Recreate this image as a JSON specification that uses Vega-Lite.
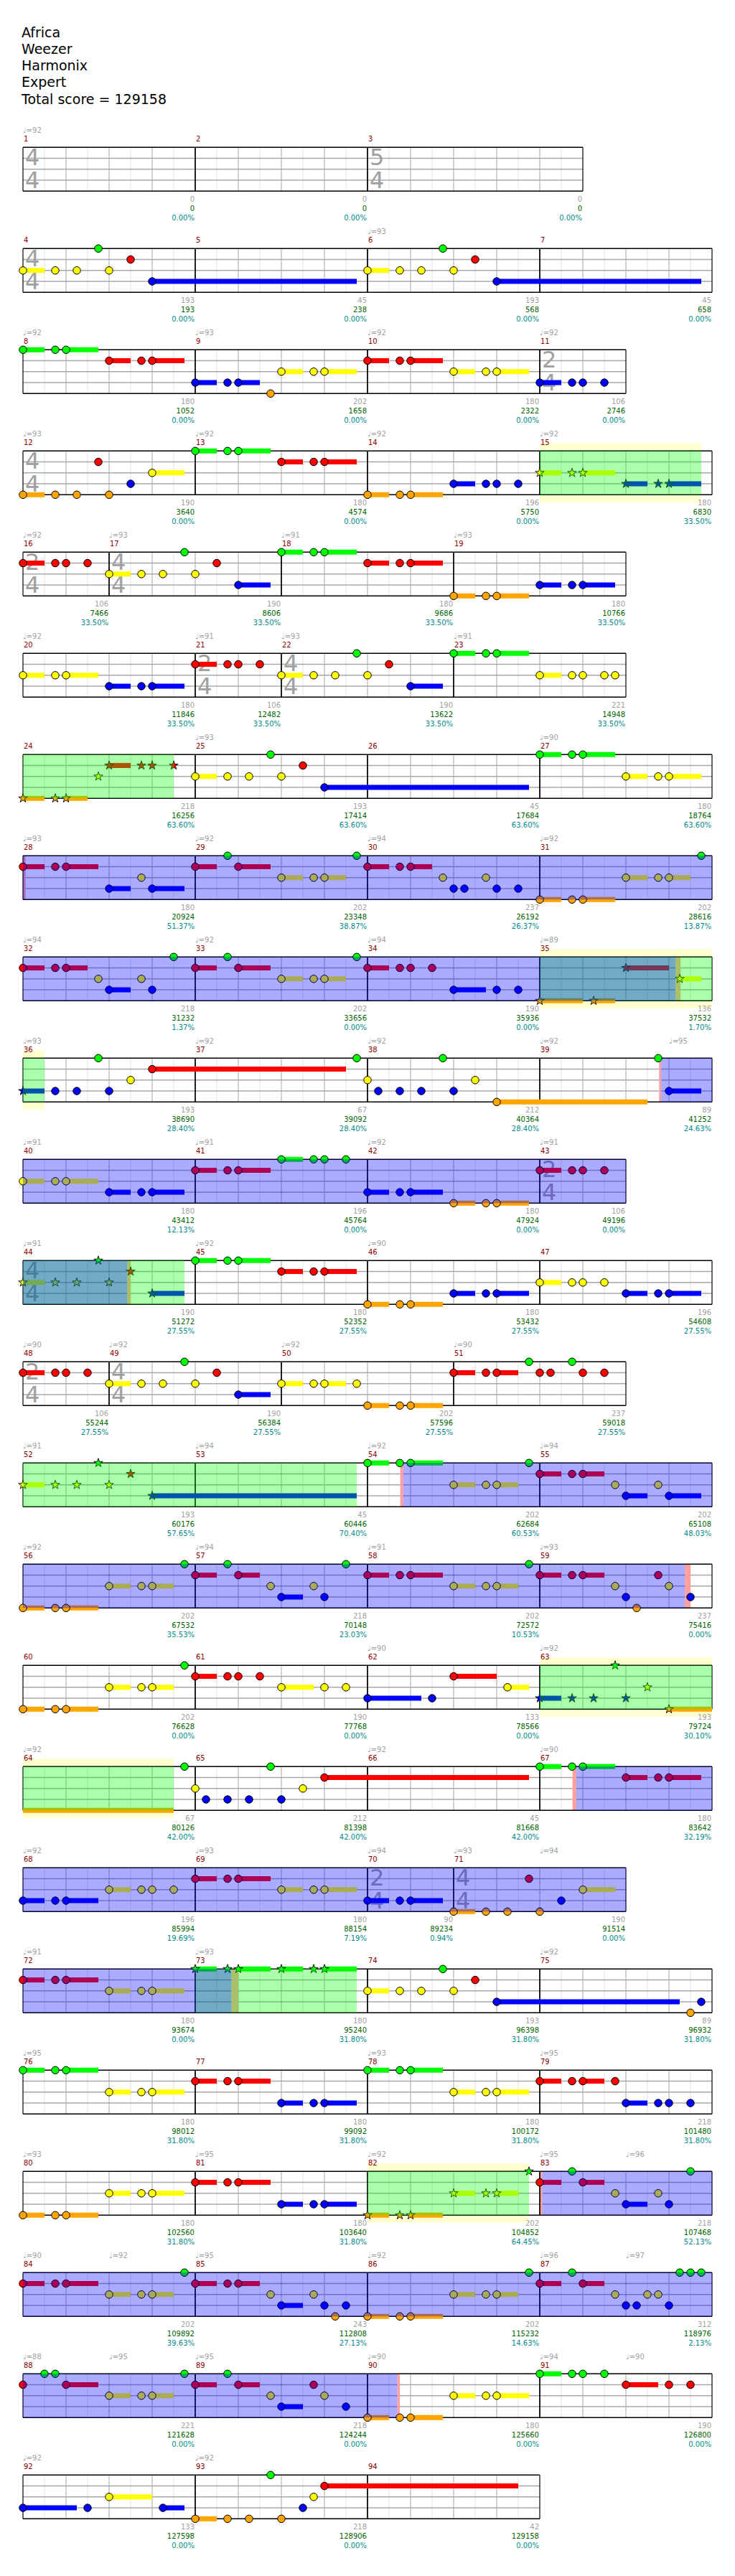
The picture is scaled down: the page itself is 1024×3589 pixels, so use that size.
{
"$schema":"https://vega.github.io/schema/vega-lite/v6.json",
"autosize":{"type":"none"},
"padding":{"left":32,"top":171.75,"right":32,"bottom":33},
"width":960,"height":3384,
"title":{"text":["Africa","Weezer","Harmonix","Expert","Total score = 129158"],"anchor":"start","frame":"group","baseline":"bottom","fontSize":19,"font":"DejaVu Sans","fontWeight":"normal","lineHeight":23.3,"offset":4,"dx":-2,"color":"black"},
"config":{"view":{"stroke":null}},
"datasets":{
"grid":[
{"len":16,"gb":[1,2,3,4,5,6,7,8,9,10,11,12,13,14,15],"gh":[0.5,1.5,2.5,3.5,4.5,5.5,6.5,7.5,8.5,9.5,10.5,11.5,12.5,13.5,14.5,15.5]},
{"len":14,"gb":[1,2,3,4,5,6,7,8,9,10,11,12,13],"gh":[0.5,1.5,2.5,3.5,4.5,5.5,6.5,7.5,8.5,9.5,10.5,11.5,12.5,13.5]},
{"len":13,"gb":[1,2,3,4,5,6,7,8,9,10,11,12],"gh":[0.5,1.5,2.5,3.5,4.5,5.5,6.5,7.5,8.5,9.5,10.5,11.5,12.5]},
{"len":12,"gb":[1,2,3,4,5,6,7,8,9,10,11],"gh":[0.5,1.5,2.5,3.5,4.5,5.5,6.5,7.5,8.5,9.5,10.5,11.5]}
],
"main":[
{"k":"row","r":1,"len":13},{"k":"row","r":2,"len":16},{"k":"row","r":3,"len":14},{"k":"row","r":4,"len":16},{"k":"row","r":5,"len":14},{"k":"row","r":6,"len":14},{"k":"row","r":7,"len":16},{"k":"row","r":8,"len":16},{"k":"row","r":9,"len":16},{"k":"row","r":10,"len":16},{"k":"row","r":11,"len":14},{"k":"row","r":12,"len":16},{"k":"row","r":13,"len":14},{"k":"row","r":14,"len":16},{"k":"row","r":15,"len":16},{"k":"row","r":16,"len":16},{"k":"row","r":17,"len":16},{"k":"row","r":18,"len":14},{"k":"row","r":19,"len":16},{"k":"row","r":20,"len":16},{"k":"row","r":21,"len":16},{"k":"row","r":22,"len":16},{"k":"row","r":23,"len":16},{"k":"row","r":24,"len":12},

{"k":"m","r":1,"n":1,"x":0,"xe":4,"sc":0,"tot":0,"pc":0,"tn":4,"td":4},
{"k":"m","r":1,"n":2,"x":4,"xe":8,"sc":0,"tot":0,"pc":0},
{"k":"m","r":1,"n":3,"x":8,"xe":13,"sc":0,"tot":0,"pc":0,"tn":5,"td":4},
{"k":"m","r":2,"n":4,"x":0,"xe":4,"sc":193,"tot":193,"pc":0,"tn":4,"td":4},
{"k":"m","r":2,"n":5,"x":4,"xe":8,"sc":45,"tot":238,"pc":0},
{"k":"m","r":2,"n":6,"x":8,"xe":12,"sc":193,"tot":568,"pc":0},
{"k":"m","r":2,"n":7,"x":12,"xe":16,"sc":45,"tot":658,"pc":0},
{"k":"m","r":3,"n":8,"x":0,"xe":4,"sc":180,"tot":1052,"pc":0},
{"k":"m","r":3,"n":9,"x":4,"xe":8,"sc":202,"tot":1658,"pc":0},
{"k":"m","r":3,"n":10,"x":8,"xe":12,"sc":180,"tot":2322,"pc":0},
{"k":"m","r":3,"n":11,"x":12,"xe":14,"sc":106,"tot":2746,"pc":0,"tn":2,"td":4},
{"k":"m","r":4,"n":12,"x":0,"xe":4,"sc":190,"tot":3640,"pc":0,"tn":4,"td":4},
{"k":"m","r":4,"n":13,"x":4,"xe":8,"sc":180,"tot":4574,"pc":0},
{"k":"m","r":4,"n":14,"x":8,"xe":12,"sc":196,"tot":5750,"pc":0},
{"k":"m","r":4,"n":15,"x":12,"xe":16,"sc":180,"tot":6830,"pc":0.335},
{"k":"m","r":5,"n":16,"x":0,"xe":2,"sc":106,"tot":7466,"pc":0.335,"tn":2,"td":4},
{"k":"m","r":5,"n":17,"x":2,"xe":6,"sc":190,"tot":8606,"pc":0.335,"tn":4,"td":4},
{"k":"m","r":5,"n":18,"x":6,"xe":10,"sc":180,"tot":9686,"pc":0.335},
{"k":"m","r":5,"n":19,"x":10,"xe":14,"sc":180,"tot":10766,"pc":0.335},
{"k":"m","r":6,"n":20,"x":0,"xe":4,"sc":180,"tot":11846,"pc":0.335},
{"k":"m","r":6,"n":21,"x":4,"xe":6,"sc":106,"tot":12482,"pc":0.335,"tn":2,"td":4},
{"k":"m","r":6,"n":22,"x":6,"xe":10,"sc":190,"tot":13622,"pc":0.335,"tn":4,"td":4},
{"k":"m","r":6,"n":23,"x":10,"xe":14,"sc":221,"tot":14948,"pc":0.335},
{"k":"m","r":7,"n":24,"x":0,"xe":4,"sc":218,"tot":16256,"pc":0.636},
{"k":"m","r":7,"n":25,"x":4,"xe":8,"sc":193,"tot":17414,"pc":0.636},
{"k":"m","r":7,"n":26,"x":8,"xe":12,"sc":45,"tot":17684,"pc":0.636},
{"k":"m","r":7,"n":27,"x":12,"xe":16,"sc":180,"tot":18764,"pc":0.636},
{"k":"m","r":8,"n":28,"x":0,"xe":4,"sc":180,"tot":20924,"pc":0.5137},
{"k":"m","r":8,"n":29,"x":4,"xe":8,"sc":202,"tot":23348,"pc":0.3887},
{"k":"m","r":8,"n":30,"x":8,"xe":12,"sc":237,"tot":26192,"pc":0.2637},
{"k":"m","r":8,"n":31,"x":12,"xe":16,"sc":202,"tot":28616,"pc":0.1387},
{"k":"m","r":9,"n":32,"x":0,"xe":4,"sc":218,"tot":31232,"pc":0.0137},
{"k":"m","r":9,"n":33,"x":4,"xe":8,"sc":202,"tot":33656,"pc":0},
{"k":"m","r":9,"n":34,"x":8,"xe":12,"sc":190,"tot":35936,"pc":0},
{"k":"m","r":9,"n":35,"x":12,"xe":16,"sc":136,"tot":37532,"pc":0.017},
{"k":"m","r":10,"n":36,"x":0,"xe":4,"sc":193,"tot":38690,"pc":0.284},
{"k":"m","r":10,"n":37,"x":4,"xe":8,"sc":67,"tot":39092,"pc":0.284},
{"k":"m","r":10,"n":38,"x":8,"xe":12,"sc":212,"tot":40364,"pc":0.284},
{"k":"m","r":10,"n":39,"x":12,"xe":16,"sc":89,"tot":41252,"pc":0.2463},
{"k":"m","r":11,"n":40,"x":0,"xe":4,"sc":180,"tot":43412,"pc":0.1213},
{"k":"m","r":11,"n":41,"x":4,"xe":8,"sc":196,"tot":45764,"pc":0},
{"k":"m","r":11,"n":42,"x":8,"xe":12,"sc":180,"tot":47924,"pc":0},
{"k":"m","r":11,"n":43,"x":12,"xe":14,"sc":106,"tot":49196,"pc":0,"tn":2,"td":4},
{"k":"m","r":12,"n":44,"x":0,"xe":4,"sc":190,"tot":51272,"pc":0.2755,"tn":4,"td":4},
{"k":"m","r":12,"n":45,"x":4,"xe":8,"sc":180,"tot":52352,"pc":0.2755},
{"k":"m","r":12,"n":46,"x":8,"xe":12,"sc":180,"tot":53432,"pc":0.2755},
{"k":"m","r":12,"n":47,"x":12,"xe":16,"sc":196,"tot":54608,"pc":0.2755},
{"k":"m","r":13,"n":48,"x":0,"xe":2,"sc":106,"tot":55244,"pc":0.2755,"tn":2,"td":4},
{"k":"m","r":13,"n":49,"x":2,"xe":6,"sc":190,"tot":56384,"pc":0.2755,"tn":4,"td":4},
{"k":"m","r":13,"n":50,"x":6,"xe":10,"sc":202,"tot":57596,"pc":0.2755},
{"k":"m","r":13,"n":51,"x":10,"xe":14,"sc":237,"tot":59018,"pc":0.2755},
{"k":"m","r":14,"n":52,"x":0,"xe":4,"sc":193,"tot":60176,"pc":0.5765},
{"k":"m","r":14,"n":53,"x":4,"xe":8,"sc":45,"tot":60446,"pc":0.704},
{"k":"m","r":14,"n":54,"x":8,"xe":12,"sc":202,"tot":62684,"pc":0.6053},
{"k":"m","r":14,"n":55,"x":12,"xe":16,"sc":202,"tot":65108,"pc":0.4803},
{"k":"m","r":15,"n":56,"x":0,"xe":4,"sc":202,"tot":67532,"pc":0.3553},
{"k":"m","r":15,"n":57,"x":4,"xe":8,"sc":218,"tot":70148,"pc":0.2303},
{"k":"m","r":15,"n":58,"x":8,"xe":12,"sc":202,"tot":72572,"pc":0.1053},
{"k":"m","r":15,"n":59,"x":12,"xe":16,"sc":237,"tot":75416,"pc":0},
{"k":"m","r":16,"n":60,"x":0,"xe":4,"sc":202,"tot":76628,"pc":0},
{"k":"m","r":16,"n":61,"x":4,"xe":8,"sc":190,"tot":77768,"pc":0},
{"k":"m","r":16,"n":62,"x":8,"xe":12,"sc":133,"tot":78566,"pc":0},
{"k":"m","r":16,"n":63,"x":12,"xe":16,"sc":193,"tot":79724,"pc":0.301},
{"k":"m","r":17,"n":64,"x":0,"xe":4,"sc":67,"tot":80126,"pc":0.42},
{"k":"m","r":17,"n":65,"x":4,"xe":8,"sc":212,"tot":81398,"pc":0.42},
{"k":"m","r":17,"n":66,"x":8,"xe":12,"sc":45,"tot":81668,"pc":0.42},
{"k":"m","r":17,"n":67,"x":12,"xe":16,"sc":180,"tot":83642,"pc":0.3219},
{"k":"m","r":18,"n":68,"x":0,"xe":4,"sc":196,"tot":85994,"pc":0.1969},
{"k":"m","r":18,"n":69,"x":4,"xe":8,"sc":180,"tot":88154,"pc":0.0719},
{"k":"m","r":18,"n":70,"x":8,"xe":10,"sc":90,"tot":89234,"pc":0.0094,"tn":2,"td":4},
{"k":"m","r":18,"n":71,"x":10,"xe":14,"sc":190,"tot":91514,"pc":0,"tn":4,"td":4},
{"k":"m","r":19,"n":72,"x":0,"xe":4,"sc":180,"tot":93674,"pc":0},
{"k":"m","r":19,"n":73,"x":4,"xe":8,"sc":180,"tot":95240,"pc":0.318},
{"k":"m","r":19,"n":74,"x":8,"xe":12,"sc":193,"tot":96398,"pc":0.318},
{"k":"m","r":19,"n":75,"x":12,"xe":16,"sc":89,"tot":96932,"pc":0.318},
{"k":"m","r":20,"n":76,"x":0,"xe":4,"sc":180,"tot":98012,"pc":0.318},
{"k":"m","r":20,"n":77,"x":4,"xe":8,"sc":180,"tot":99092,"pc":0.318},
{"k":"m","r":20,"n":78,"x":8,"xe":12,"sc":180,"tot":100172,"pc":0.318},
{"k":"m","r":20,"n":79,"x":12,"xe":16,"sc":218,"tot":101480,"pc":0.318},
{"k":"m","r":21,"n":80,"x":0,"xe":4,"sc":180,"tot":102560,"pc":0.318},
{"k":"m","r":21,"n":81,"x":4,"xe":8,"sc":180,"tot":103640,"pc":0.318},
{"k":"m","r":21,"n":82,"x":8,"xe":12,"sc":202,"tot":104852,"pc":0.6445},
{"k":"m","r":21,"n":83,"x":12,"xe":16,"sc":218,"tot":107468,"pc":0.5213},
{"k":"m","r":22,"n":84,"x":0,"xe":4,"sc":202,"tot":109892,"pc":0.3963},
{"k":"m","r":22,"n":85,"x":4,"xe":8,"sc":243,"tot":112808,"pc":0.2713},
{"k":"m","r":22,"n":86,"x":8,"xe":12,"sc":202,"tot":115232,"pc":0.1463},
{"k":"m","r":22,"n":87,"x":12,"xe":16,"sc":312,"tot":118976,"pc":0.0213},
{"k":"m","r":23,"n":88,"x":0,"xe":4,"sc":221,"tot":121628,"pc":0},
{"k":"m","r":23,"n":89,"x":4,"xe":8,"sc":218,"tot":124244,"pc":0},
{"k":"m","r":23,"n":90,"x":8,"xe":12,"sc":180,"tot":125660,"pc":0},
{"k":"m","r":23,"n":91,"x":12,"xe":16,"sc":190,"tot":126800,"pc":0},
{"k":"m","r":24,"n":92,"x":0,"xe":4,"sc":133,"tot":127598,"pc":0},
{"k":"m","r":24,"n":93,"x":4,"xe":8,"sc":218,"tot":128906,"pc":0},
{"k":"m","r":24,"n":94,"x":8,"xe":12,"sc":42,"tot":129158,"pc":0},

{"k":"t","r":1,"x":0,"tp":"♩=92"},
{"k":"t","r":2,"x":8,"tp":"♩=93"},
{"k":"t","r":3,"x":0,"tp":"♩=92"},{"k":"t","r":3,"x":4,"tp":"♩=93"},{"k":"t","r":3,"x":8,"tp":"♩=92"},{"k":"t","r":3,"x":12,"tp":"♩=92"},
{"k":"t","r":4,"x":0,"tp":"♩=93"},{"k":"t","r":4,"x":4,"tp":"♩=92"},{"k":"t","r":4,"x":8,"tp":"♩=92"},{"k":"t","r":4,"x":12,"tp":"♩=92"},
{"k":"t","r":5,"x":0,"tp":"♩=92"},{"k":"t","r":5,"x":2,"tp":"♩=93"},{"k":"t","r":5,"x":6,"tp":"♩=91"},{"k":"t","r":5,"x":10,"tp":"♩=93"},
{"k":"t","r":6,"x":0,"tp":"♩=92"},{"k":"t","r":6,"x":4,"tp":"♩=91"},{"k":"t","r":6,"x":6,"tp":"♩=93"},{"k":"t","r":6,"x":10,"tp":"♩=91"},
{"k":"t","r":7,"x":4,"tp":"♩=93"},{"k":"t","r":7,"x":12,"tp":"♩=90"},
{"k":"t","r":8,"x":0,"tp":"♩=93"},{"k":"t","r":8,"x":4,"tp":"♩=92"},{"k":"t","r":8,"x":8,"tp":"♩=94"},{"k":"t","r":8,"x":12,"tp":"♩=92"},
{"k":"t","r":9,"x":0,"tp":"♩=94"},{"k":"t","r":9,"x":4,"tp":"♩=92"},{"k":"t","r":9,"x":8,"tp":"♩=94"},{"k":"t","r":9,"x":12,"tp":"♩=89"},
{"k":"t","r":10,"x":0,"tp":"♩=93"},{"k":"t","r":10,"x":4,"tp":"♩=92"},{"k":"t","r":10,"x":8,"tp":"♩=92"},{"k":"t","r":10,"x":12,"tp":"♩=92"},{"k":"t","r":10,"x":15,"tp":"♩=95"},
{"k":"t","r":11,"x":0,"tp":"♩=91"},{"k":"t","r":11,"x":4,"tp":"♩=91"},{"k":"t","r":11,"x":8,"tp":"♩=92"},{"k":"t","r":11,"x":12,"tp":"♩=91"},
{"k":"t","r":12,"x":0,"tp":"♩=91"},{"k":"t","r":12,"x":4,"tp":"♩=92"},{"k":"t","r":12,"x":8,"tp":"♩=90"},
{"k":"t","r":13,"x":0,"tp":"♩=90"},{"k":"t","r":13,"x":2,"tp":"♩=92"},{"k":"t","r":13,"x":6,"tp":"♩=92"},{"k":"t","r":13,"x":10,"tp":"♩=90"},
{"k":"t","r":14,"x":0,"tp":"♩=91"},{"k":"t","r":14,"x":4,"tp":"♩=94"},{"k":"t","r":14,"x":8,"tp":"♩=92"},{"k":"t","r":14,"x":12,"tp":"♩=94"},
{"k":"t","r":15,"x":0,"tp":"♩=92"},{"k":"t","r":15,"x":4,"tp":"♩=94"},{"k":"t","r":15,"x":8,"tp":"♩=91"},{"k":"t","r":15,"x":12,"tp":"♩=93"},
{"k":"t","r":16,"x":8,"tp":"♩=90"},{"k":"t","r":16,"x":12,"tp":"♩=92"},
{"k":"t","r":17,"x":0,"tp":"♩=92"},{"k":"t","r":17,"x":8,"tp":"♩=92"},{"k":"t","r":17,"x":12,"tp":"♩=90"},
{"k":"t","r":18,"x":0,"tp":"♩=92"},{"k":"t","r":18,"x":4,"tp":"♩=93"},{"k":"t","r":18,"x":8,"tp":"♩=94"},{"k":"t","r":18,"x":10,"tp":"♩=93"},{"k":"t","r":18,"x":12,"tp":"♩=94"},
{"k":"t","r":19,"x":0,"tp":"♩=91"},{"k":"t","r":19,"x":4,"tp":"♩=93"},{"k":"t","r":19,"x":12,"tp":"♩=92"},
{"k":"t","r":20,"x":0,"tp":"♩=95"},{"k":"t","r":20,"x":8,"tp":"♩=93"},{"k":"t","r":20,"x":12,"tp":"♩=95"},
{"k":"t","r":21,"x":0,"tp":"♩=93"},{"k":"t","r":21,"x":4,"tp":"♩=95"},{"k":"t","r":21,"x":8,"tp":"♩=92"},{"k":"t","r":21,"x":12,"tp":"♩=95"},{"k":"t","r":21,"x":14,"tp":"♩=96"},
{"k":"t","r":22,"x":0,"tp":"♩=90"},{"k":"t","r":22,"x":2,"tp":"♩=92"},{"k":"t","r":22,"x":4,"tp":"♩=95"},{"k":"t","r":22,"x":8,"tp":"♩=92"},{"k":"t","r":22,"x":12,"tp":"♩=96"},{"k":"t","r":22,"x":14,"tp":"♩=97"},
{"k":"t","r":23,"x":0,"tp":"♩=88"},{"k":"t","r":23,"x":2,"tp":"♩=95"},{"k":"t","r":23,"x":4,"tp":"♩=95"},{"k":"t","r":23,"x":8,"tp":"♩=90"},{"k":"t","r":23,"x":12,"tp":"♩=94"},{"k":"t","r":23,"x":14,"tp":"♩=90"},
{"k":"t","r":24,"x":0,"tp":"♩=92"},{"k":"t","r":24,"x":4,"tp":"♩=92"},

{"k":"y","r":4,"x":12,"x2":15.75},{"k":"y","r":9,"x":12,"x2":16},{"k":"y","r":10,"x":0,"x2":0.5},{"k":"y","r":16,"x":12,"x2":16},{"k":"y","r":17,"x":0,"x2":3.5},{"k":"y","r":21,"x":8,"x2":11.75},
{"k":"g","r":4,"x":12,"x2":15.75},{"k":"g","r":7,"x":0,"x2":3.5},{"k":"g","r":9,"x":12,"x2":16},{"k":"g","r":10,"x":0,"x2":0.5},{"k":"g","r":12,"x":0,"x2":3.75},{"k":"g","r":14,"x":0,"x2":7.75},{"k":"g","r":16,"x":12,"x2":16},{"k":"g","r":17,"x":0,"x2":3.5},{"k":"g","r":19,"x":4,"x2":7.75},{"k":"g","r":21,"x":8,"x2":11.75},
{"k":"b","r":8,"x":0,"x2":16},{"k":"b","r":9,"x":0,"x2":15.15},{"k":"b","r":10,"x":14.82,"x2":16},{"k":"b","r":11,"x":0,"x2":14},{"k":"b","r":12,"x":0,"x2":2.42},{"k":"b","r":14,"x":8.83,"x2":16},{"k":"b","r":15,"x":0,"x2":15.37},{"k":"b","r":17,"x":12.85,"x2":16},{"k":"b","r":18,"x":0,"x2":14},{"k":"b","r":19,"x":0,"x2":4.84},{"k":"b","r":21,"x":12.06,"x2":16},{"k":"b","r":22,"x":0,"x2":16},{"k":"b","r":23,"x":0,"x2":8.69},
{"k":"p","r":8,"x":0,"x2":0.06},{"k":"p","r":9,"x":15.15,"x2":15.27},{"k":"p","r":10,"x":14.77,"x2":14.82},{"k":"p","r":12,"x":2.42,"x2":2.5},{"k":"p","r":14,"x":8.76,"x2":8.83},{"k":"p","r":15,"x":15.37,"x2":15.5},{"k":"p","r":17,"x":12.76,"x2":12.85},{"k":"p","r":19,"x":4.84,"x2":5},{"k":"p","r":21,"x":12,"x2":12.06},{"k":"p","r":23,"x":8.69,"x2":8.75},

{"k":"n","r":2,"x":1.75,"l":0},{"k":"n","r":2,"x":2.5,"l":1},{"k":"n","r":2,"x":0,"l":2,"e":0.5},{"k":"n","r":2,"x":0.75,"l":2},{"k":"n","r":2,"x":1.25,"l":2},{"k":"n","r":2,"x":2,"l":2},{"k":"n","r":2,"x":3,"l":3,"e":7.75},{"k":"n","r":2,"x":8,"l":2,"e":8.5},{"k":"n","r":2,"x":8.75,"l":2},{"k":"n","r":2,"x":9.25,"l":2},{"k":"n","r":2,"x":10,"l":2},{"k":"n","r":2,"x":9.75,"l":0},{"k":"n","r":2,"x":10.5,"l":1},{"k":"n","r":2,"x":11,"l":3,"e":15.75},

{"k":"n","r":3,"x":0,"l":0,"e":0.5},{"k":"n","r":3,"x":0.75,"l":0},{"k":"n","r":3,"x":1,"l":0,"e":1.75},{"k":"n","r":3,"x":2,"l":1,"e":2.5},{"k":"n","r":3,"x":2.75,"l":1},{"k":"n","r":3,"x":3,"l":1,"e":3.75},{"k":"n","r":3,"x":4,"l":3,"e":4.5},{"k":"n","r":3,"x":4.75,"l":3},{"k":"n","r":3,"x":5,"l":3,"e":5.5},{"k":"n","r":3,"x":5.75,"l":4},{"k":"n","r":3,"x":6,"l":2,"e":6.5},{"k":"n","r":3,"x":6.75,"l":2},{"k":"n","r":3,"x":7,"l":2,"e":7.75},{"k":"n","r":3,"x":8,"l":1,"e":8.5},{"k":"n","r":3,"x":8.75,"l":1},{"k":"n","r":3,"x":9,"l":1,"e":9.75},{"k":"n","r":3,"x":10,"l":2,"e":10.5},{"k":"n","r":3,"x":10.75,"l":2},{"k":"n","r":3,"x":11,"l":2,"e":11.75},{"k":"n","r":3,"x":12,"l":3,"e":12.5},{"k":"n","r":3,"x":12.75,"l":3},{"k":"n","r":3,"x":13,"l":3},{"k":"n","r":3,"x":13.5,"l":3},

{"k":"n","r":4,"x":0,"l":4,"e":0.5},{"k":"n","r":4,"x":0.75,"l":4},{"k":"n","r":4,"x":1.25,"l":4},{"k":"n","r":4,"x":2,"l":4},{"k":"n","r":4,"x":1.75,"l":1},{"k":"n","r":4,"x":2.5,"l":3},{"k":"n","r":4,"x":3,"l":2,"e":3.75},{"k":"n","r":4,"x":4,"l":0,"e":4.5},{"k":"n","r":4,"x":4.75,"l":0},{"k":"n","r":4,"x":5,"l":0,"e":5.75},{"k":"n","r":4,"x":6,"l":1,"e":6.5},{"k":"n","r":4,"x":6.75,"l":1},{"k":"n","r":4,"x":7,"l":1,"e":7.75},{"k":"n","r":4,"x":8,"l":4,"e":8.5},{"k":"n","r":4,"x":8.75,"l":4},{"k":"n","r":4,"x":9,"l":4,"e":9.75},{"k":"n","r":4,"x":10,"l":3,"e":10.5},{"k":"n","r":4,"x":10.75,"l":3},{"k":"n","r":4,"x":11,"l":3},{"k":"n","r":4,"x":11.5,"l":3},{"k":"n","r":4,"x":12,"l":2,"e":12.5,"s":1},{"k":"n","r":4,"x":12.75,"l":2,"s":1},{"k":"n","r":4,"x":13,"l":2,"e":13.75,"s":1},{"k":"n","r":4,"x":14,"l":3,"e":14.5,"s":1},{"k":"n","r":4,"x":14.75,"l":3,"s":1},{"k":"n","r":4,"x":15,"l":3,"e":15.75,"s":1},

{"k":"n","r":5,"x":0,"l":1,"e":0.5},{"k":"n","r":5,"x":0.75,"l":1},{"k":"n","r":5,"x":1,"l":1},{"k":"n","r":5,"x":1.5,"l":1},{"k":"n","r":5,"x":2,"l":2,"e":2.5},{"k":"n","r":5,"x":2.75,"l":2},{"k":"n","r":5,"x":3.25,"l":2},{"k":"n","r":5,"x":4,"l":2},{"k":"n","r":5,"x":3.75,"l":0},{"k":"n","r":5,"x":4.5,"l":1},{"k":"n","r":5,"x":5,"l":3,"e":5.75},{"k":"n","r":5,"x":6,"l":0,"e":6.5},{"k":"n","r":5,"x":6.75,"l":0},{"k":"n","r":5,"x":7,"l":0,"e":7.75},{"k":"n","r":5,"x":8,"l":1,"e":8.5},{"k":"n","r":5,"x":8.75,"l":1},{"k":"n","r":5,"x":9,"l":1,"e":9.75},{"k":"n","r":5,"x":10,"l":4,"e":10.5},{"k":"n","r":5,"x":10.75,"l":4},{"k":"n","r":5,"x":11,"l":4,"e":11.75},{"k":"n","r":5,"x":12,"l":3,"e":12.5},{"k":"n","r":5,"x":12.75,"l":3},{"k":"n","r":5,"x":13,"l":3,"e":13.75},

{"k":"n","r":6,"x":0,"l":2,"e":0.5},{"k":"n","r":6,"x":0.75,"l":2},{"k":"n","r":6,"x":1,"l":2,"e":1.75},{"k":"n","r":6,"x":2,"l":3,"e":2.5},{"k":"n","r":6,"x":2.75,"l":3},{"k":"n","r":6,"x":3,"l":3,"e":3.75},{"k":"n","r":6,"x":4,"l":1,"e":4.5},{"k":"n","r":6,"x":4.75,"l":1},{"k":"n","r":6,"x":5,"l":1},{"k":"n","r":6,"x":5.5,"l":1},{"k":"n","r":6,"x":6,"l":2,"e":6.5},{"k":"n","r":6,"x":6.75,"l":2},{"k":"n","r":6,"x":7.25,"l":2},{"k":"n","r":6,"x":8,"l":2},{"k":"n","r":6,"x":7.75,"l":0},{"k":"n","r":6,"x":8.5,"l":1},{"k":"n","r":6,"x":9,"l":3,"e":9.75},{"k":"n","r":6,"x":10,"l":0,"e":10.5},{"k":"n","r":6,"x":10.75,"l":0},{"k":"n","r":6,"x":11,"l":0,"e":11.75},{"k":"n","r":6,"x":12,"l":2,"e":12.5},{"k":"n","r":6,"x":12.75,"l":2},{"k":"n","r":6,"x":13,"l":2},{"k":"n","r":6,"x":13.5,"l":2},{"k":"n","r":6,"x":13.75,"l":2},

{"k":"n","r":7,"x":0,"l":4,"e":0.5,"s":1},{"k":"n","r":7,"x":0.75,"l":4,"s":1},{"k":"n","r":7,"x":1,"l":4,"e":1.5,"s":1},{"k":"n","r":7,"x":1.75,"l":2,"s":1},{"k":"n","r":7,"x":2,"l":1,"e":2.5,"s":1},{"k":"n","r":7,"x":2.75,"l":1,"s":1},{"k":"n","r":7,"x":3,"l":1,"s":1},{"k":"n","r":7,"x":3.5,"l":1,"s":1},{"k":"n","r":7,"x":4,"l":2,"e":4.5},{"k":"n","r":7,"x":4.75,"l":2},{"k":"n","r":7,"x":5.25,"l":2},{"k":"n","r":7,"x":6,"l":2},{"k":"n","r":7,"x":5.75,"l":0},{"k":"n","r":7,"x":6.5,"l":1},{"k":"n","r":7,"x":7,"l":3,"e":11.75},{"k":"n","r":7,"x":12,"l":0,"e":12.5},{"k":"n","r":7,"x":12.75,"l":0},{"k":"n","r":7,"x":13,"l":0,"e":13.75},{"k":"n","r":7,"x":14,"l":2,"e":14.5},{"k":"n","r":7,"x":14.75,"l":2},{"k":"n","r":7,"x":15,"l":2,"e":15.75},

{"k":"n","r":8,"x":0,"l":1,"e":0.5},{"k":"n","r":8,"x":0.75,"l":1},{"k":"n","r":8,"x":1,"l":1,"e":1.75},{"k":"n","r":8,"x":2.75,"l":2},{"k":"n","r":8,"x":2,"l":3,"e":2.5},{"k":"n","r":8,"x":3,"l":3,"e":3.75},{"k":"n","r":8,"x":4.75,"l":0},{"k":"n","r":8,"x":7.75,"l":0},{"k":"n","r":8,"x":4,"l":1,"e":4.5},{"k":"n","r":8,"x":5,"l":1,"e":5.75},{"k":"n","r":8,"x":6,"l":2,"e":6.5},{"k":"n","r":8,"x":6.75,"l":2},{"k":"n","r":8,"x":7,"l":2,"e":7.5},{"k":"n","r":8,"x":8,"l":1,"e":8.5},{"k":"n","r":8,"x":8.75,"l":1},{"k":"n","r":8,"x":9,"l":1,"e":9.5},{"k":"n","r":8,"x":9.75,"l":2},{"k":"n","r":8,"x":10.75,"l":2},{"k":"n","r":8,"x":10,"l":3},{"k":"n","r":8,"x":10.25,"l":3},{"k":"n","r":8,"x":11,"l":3},{"k":"n","r":8,"x":11.5,"l":3},{"k":"n","r":8,"x":12,"l":4,"e":12.5},{"k":"n","r":8,"x":12.75,"l":4},{"k":"n","r":8,"x":13,"l":4,"e":13.75},{"k":"n","r":8,"x":14,"l":2,"e":14.5},{"k":"n","r":8,"x":14.75,"l":2},{"k":"n","r":8,"x":15,"l":2,"e":15.5},{"k":"n","r":8,"x":15.75,"l":0},

{"k":"n","r":9,"x":0,"l":1,"e":0.5},{"k":"n","r":9,"x":0.75,"l":1},{"k":"n","r":9,"x":1,"l":1,"e":1.5},{"k":"n","r":9,"x":1.75,"l":2},{"k":"n","r":9,"x":2.75,"l":2},{"k":"n","r":9,"x":3.5,"l":0},{"k":"n","r":9,"x":2,"l":3,"e":2.5},{"k":"n","r":9,"x":3,"l":3},{"k":"n","r":9,"x":4,"l":1,"e":4.5},{"k":"n","r":9,"x":5,"l":1,"e":5.75},{"k":"n","r":9,"x":4.75,"l":0},{"k":"n","r":9,"x":6,"l":2,"e":6.5},{"k":"n","r":9,"x":6.75,"l":2},{"k":"n","r":9,"x":7,"l":2,"e":7.5},{"k":"n","r":9,"x":7.75,"l":0},{"k":"n","r":9,"x":8,"l":1,"e":8.5},{"k":"n","r":9,"x":8.75,"l":1},{"k":"n","r":9,"x":9,"l":1},{"k":"n","r":9,"x":9.5,"l":1},{"k":"n","r":9,"x":10,"l":3,"e":10.75},{"k":"n","r":9,"x":11,"l":3},{"k":"n","r":9,"x":11.5,"l":3},{"k":"n","r":9,"x":12,"l":4,"e":13,"s":1},{"k":"n","r":9,"x":13.25,"l":4,"e":13.75,"s":1},{"k":"n","r":9,"x":14,"l":1,"e":15,"s":1},{"k":"n","r":9,"x":15.25,"l":2,"e":15.75,"s":1},

{"k":"n","r":10,"x":0,"l":3,"e":0.5,"s":1},{"k":"n","r":10,"x":0.75,"l":3},{"k":"n","r":10,"x":1.25,"l":3},{"k":"n","r":10,"x":2,"l":3},{"k":"n","r":10,"x":1.75,"l":0},{"k":"n","r":10,"x":2.5,"l":2},{"k":"n","r":10,"x":3,"l":1,"e":7.5},{"k":"n","r":10,"x":7.75,"l":0},{"k":"n","r":10,"x":8,"l":2},{"k":"n","r":10,"x":8.25,"l":3},{"k":"n","r":10,"x":8.75,"l":3},{"k":"n","r":10,"x":9.25,"l":3},{"k":"n","r":10,"x":10,"l":3},{"k":"n","r":10,"x":9.75,"l":0},{"k":"n","r":10,"x":10.5,"l":2},{"k":"n","r":10,"x":11,"l":4,"e":14.5},{"k":"n","r":10,"x":14.75,"l":0},{"k":"n","r":10,"x":15,"l":3,"e":15.75},

{"k":"n","r":11,"x":0,"l":2,"e":0.5},{"k":"n","r":11,"x":0.75,"l":2},{"k":"n","r":11,"x":1,"l":2,"e":1.75},{"k":"n","r":11,"x":2,"l":3,"e":2.5},{"k":"n","r":11,"x":2.75,"l":3},{"k":"n","r":11,"x":3,"l":3,"e":3.75},{"k":"n","r":11,"x":4,"l":1,"e":4.5},{"k":"n","r":11,"x":4.75,"l":1},{"k":"n","r":11,"x":5,"l":1,"e":5.75},{"k":"n","r":11,"x":6,"l":0,"e":6.5},{"k":"n","r":11,"x":6.75,"l":0},{"k":"n","r":11,"x":7,"l":0},{"k":"n","r":11,"x":7.5,"l":0},{"k":"n","r":11,"x":8,"l":3,"e":8.5},{"k":"n","r":11,"x":8.75,"l":3},{"k":"n","r":11,"x":9,"l":3,"e":9.75},{"k":"n","r":11,"x":10,"l":4,"e":10.5},{"k":"n","r":11,"x":10.75,"l":4},{"k":"n","r":11,"x":11,"l":4,"e":11.75},{"k":"n","r":11,"x":12,"l":1,"e":12.5},{"k":"n","r":11,"x":12.75,"l":1},{"k":"n","r":11,"x":13,"l":1},{"k":"n","r":11,"x":13.5,"l":1},

{"k":"n","r":12,"x":0,"l":2,"e":0.5,"s":1},{"k":"n","r":12,"x":0.75,"l":2,"s":1},{"k":"n","r":12,"x":1.25,"l":2,"s":1},{"k":"n","r":12,"x":2,"l":2,"s":1},{"k":"n","r":12,"x":1.75,"l":0,"s":1},{"k":"n","r":12,"x":2.5,"l":1,"s":1},{"k":"n","r":12,"x":3,"l":3,"e":3.75,"s":1},{"k":"n","r":12,"x":4,"l":0,"e":4.5},{"k":"n","r":12,"x":4.75,"l":0},{"k":"n","r":12,"x":5,"l":0,"e":5.75},{"k":"n","r":12,"x":6,"l":1,"e":6.5},{"k":"n","r":12,"x":6.75,"l":1},{"k":"n","r":12,"x":7,"l":1,"e":7.75},{"k":"n","r":12,"x":8,"l":4,"e":8.5},{"k":"n","r":12,"x":8.75,"l":4},{"k":"n","r":12,"x":9,"l":4,"e":9.75},{"k":"n","r":12,"x":10,"l":3,"e":10.5},{"k":"n","r":12,"x":10.75,"l":3},{"k":"n","r":12,"x":11,"l":3,"e":11.75},{"k":"n","r":12,"x":12,"l":2,"e":12.5},{"k":"n","r":12,"x":12.75,"l":2},{"k":"n","r":12,"x":13,"l":2},{"k":"n","r":12,"x":13.5,"l":2},{"k":"n","r":12,"x":14,"l":3,"e":14.5},{"k":"n","r":12,"x":14.75,"l":3},{"k":"n","r":12,"x":15,"l":3,"e":15.75},

{"k":"n","r":13,"x":0,"l":1,"e":0.5},{"k":"n","r":13,"x":0.75,"l":1},{"k":"n","r":13,"x":1,"l":1},{"k":"n","r":13,"x":1.5,"l":1},{"k":"n","r":13,"x":2,"l":2,"e":2.5},{"k":"n","r":13,"x":2.75,"l":2},{"k":"n","r":13,"x":3.25,"l":2},{"k":"n","r":13,"x":4,"l":2},{"k":"n","r":13,"x":3.75,"l":0},{"k":"n","r":13,"x":4.5,"l":1},{"k":"n","r":13,"x":5,"l":3,"e":5.75},{"k":"n","r":13,"x":6,"l":2,"e":6.5},{"k":"n","r":13,"x":6.75,"l":2},{"k":"n","r":13,"x":7,"l":2,"e":7.5},{"k":"n","r":13,"x":7.75,"l":2},{"k":"n","r":13,"x":8,"l":4,"e":8.5},{"k":"n","r":13,"x":8.75,"l":4},{"k":"n","r":13,"x":9,"l":4,"e":9.75},{"k":"n","r":13,"x":10,"l":1,"e":10.5},{"k":"n","r":13,"x":10.75,"l":1},{"k":"n","r":13,"x":11,"l":1,"e":11.5},{"k":"n","r":13,"x":11.75,"l":0},{"k":"n","r":13,"x":12,"l":1},{"k":"n","r":13,"x":12.25,"l":1},{"k":"n","r":13,"x":12.75,"l":0},{"k":"n","r":13,"x":13,"l":1},{"k":"n","r":13,"x":13.5,"l":1},

{"k":"n","r":14,"x":0,"l":2,"e":0.5,"s":1},{"k":"n","r":14,"x":0.75,"l":2,"s":1},{"k":"n","r":14,"x":1.25,"l":2,"s":1},{"k":"n","r":14,"x":2,"l":2,"s":1},{"k":"n","r":14,"x":1.75,"l":0,"s":1},{"k":"n","r":14,"x":2.5,"l":1,"s":1},{"k":"n","r":14,"x":3,"l":3,"e":7.75,"s":1},{"k":"n","r":14,"x":8,"l":0,"e":8.5},{"k":"n","r":14,"x":8.75,"l":0},{"k":"n","r":14,"x":9,"l":0,"e":9.75},{"k":"n","r":14,"x":10,"l":2,"e":10.5},{"k":"n","r":14,"x":10.75,"l":2},{"k":"n","r":14,"x":11,"l":2,"e":11.5},{"k":"n","r":14,"x":11.75,"l":0},{"k":"n","r":14,"x":12,"l":1,"e":12.5},{"k":"n","r":14,"x":12.75,"l":1},{"k":"n","r":14,"x":13,"l":1,"e":13.5},{"k":"n","r":14,"x":13.75,"l":2},{"k":"n","r":14,"x":14.75,"l":2},{"k":"n","r":14,"x":14,"l":3,"e":14.5},{"k":"n","r":14,"x":15,"l":3,"e":15.75},

{"k":"n","r":15,"x":0,"l":4,"e":0.5},{"k":"n","r":15,"x":0.75,"l":4},{"k":"n","r":15,"x":1,"l":4,"e":1.75},{"k":"n","r":15,"x":2,"l":2,"e":2.5},{"k":"n","r":15,"x":2.75,"l":2},{"k":"n","r":15,"x":3,"l":2,"e":3.5},{"k":"n","r":15,"x":3.75,"l":0},{"k":"n","r":15,"x":4,"l":1,"e":4.5},{"k":"n","r":15,"x":5,"l":1,"e":5.5},{"k":"n","r":15,"x":4.75,"l":0},{"k":"n","r":15,"x":5.75,"l":2},{"k":"n","r":15,"x":6.75,"l":2},{"k":"n","r":15,"x":6,"l":3,"e":6.5},{"k":"n","r":15,"x":7,"l":3},{"k":"n","r":15,"x":7.5,"l":0},{"k":"n","r":15,"x":8,"l":1,"e":8.5},{"k":"n","r":15,"x":8.75,"l":1},{"k":"n","r":15,"x":9,"l":1,"e":9.75},{"k":"n","r":15,"x":10,"l":2,"e":10.5},{"k":"n","r":15,"x":10.75,"l":2},{"k":"n","r":15,"x":11,"l":2,"e":11.5},{"k":"n","r":15,"x":11.75,"l":0},{"k":"n","r":15,"x":12,"l":1,"e":12.5},{"k":"n","r":15,"x":12.75,"l":1},{"k":"n","r":15,"x":13,"l":1,"e":13.5},{"k":"n","r":15,"x":13.75,"l":2},{"k":"n","r":15,"x":14,"l":3},{"k":"n","r":15,"x":14.25,"l":4},{"k":"n","r":15,"x":14.75,"l":1},{"k":"n","r":15,"x":15,"l":2},{"k":"n","r":15,"x":15.5,"l":3},

{"k":"n","r":16,"x":0,"l":4,"e":0.5},{"k":"n","r":16,"x":0.75,"l":4},{"k":"n","r":16,"x":1,"l":4,"e":1.75},{"k":"n","r":16,"x":2,"l":2,"e":2.5},{"k":"n","r":16,"x":2.75,"l":2},{"k":"n","r":16,"x":3,"l":2,"e":3.5},{"k":"n","r":16,"x":3.75,"l":0},{"k":"n","r":16,"x":4,"l":1,"e":4.5},{"k":"n","r":16,"x":4.75,"l":1},{"k":"n","r":16,"x":5,"l":1},{"k":"n","r":16,"x":5.5,"l":1},{"k":"n","r":16,"x":6,"l":2,"e":6.75},{"k":"n","r":16,"x":7,"l":2},{"k":"n","r":16,"x":7.5,"l":2},{"k":"n","r":16,"x":8,"l":3,"e":9.25},{"k":"n","r":16,"x":9.5,"l":3},{"k":"n","r":16,"x":10,"l":1,"e":11},{"k":"n","r":16,"x":11.25,"l":2,"e":11.75},{"k":"n","r":16,"x":12,"l":3,"e":12.5,"s":1},{"k":"n","r":16,"x":12.75,"l":3,"s":1},{"k":"n","r":16,"x":13.25,"l":3,"s":1},{"k":"n","r":16,"x":14,"l":3,"s":1},{"k":"n","r":16,"x":13.75,"l":0,"s":1},{"k":"n","r":16,"x":14.5,"l":2,"s":1},{"k":"n","r":16,"x":15,"l":4,"e":16,"s":1},

{"k":"c","r":17,"x":0,"l":4,"e":3.5},
{"k":"n","r":17,"x":3.75,"l":0},{"k":"n","r":17,"x":4,"l":2},{"k":"n","r":17,"x":4.25,"l":3},{"k":"n","r":17,"x":4.75,"l":3},{"k":"n","r":17,"x":5.25,"l":3},{"k":"n","r":17,"x":6,"l":3},{"k":"n","r":17,"x":5.75,"l":0},{"k":"n","r":17,"x":6.5,"l":2},{"k":"n","r":17,"x":7,"l":1,"e":11.75},{"k":"n","r":17,"x":12,"l":0,"e":12.5},{"k":"n","r":17,"x":12.75,"l":0},{"k":"n","r":17,"x":13,"l":0,"e":13.75},{"k":"n","r":17,"x":14,"l":1,"e":14.5},{"k":"n","r":17,"x":14.75,"l":1},{"k":"n","r":17,"x":15,"l":1,"e":15.75},

{"k":"n","r":18,"x":0,"l":3,"e":0.5},{"k":"n","r":18,"x":0.75,"l":3},{"k":"n","r":18,"x":1,"l":3,"e":1.75},{"k":"n","r":18,"x":2,"l":2,"e":2.5},{"k":"n","r":18,"x":2.75,"l":2},{"k":"n","r":18,"x":3,"l":2},{"k":"n","r":18,"x":3.5,"l":2},{"k":"n","r":18,"x":4,"l":1,"e":4.5},{"k":"n","r":18,"x":4.75,"l":1},{"k":"n","r":18,"x":5,"l":1,"e":5.75},{"k":"n","r":18,"x":6,"l":2,"e":6.5},{"k":"n","r":18,"x":6.75,"l":2},{"k":"n","r":18,"x":7,"l":2,"e":7.75},{"k":"n","r":18,"x":8,"l":3,"e":8.5},{"k":"n","r":18,"x":8.75,"l":3},{"k":"n","r":18,"x":9,"l":3,"e":9.75},{"k":"n","r":18,"x":10,"l":4,"e":10.5},{"k":"n","r":18,"x":10.75,"l":4},{"k":"n","r":18,"x":11.25,"l":4},{"k":"n","r":18,"x":12,"l":4},{"k":"n","r":18,"x":11.75,"l":1},{"k":"n","r":18,"x":12.5,"l":3},{"k":"n","r":18,"x":13,"l":2,"e":13.75},

{"k":"n","r":19,"x":0,"l":1,"e":0.5},{"k":"n","r":19,"x":0.75,"l":1},{"k":"n","r":19,"x":1,"l":1,"e":1.75},{"k":"n","r":19,"x":2,"l":2,"e":2.5},{"k":"n","r":19,"x":2.75,"l":2},{"k":"n","r":19,"x":3,"l":2,"e":3.75},{"k":"n","r":19,"x":4,"l":0,"e":4.5,"s":1},{"k":"n","r":19,"x":4.75,"l":0,"s":1},{"k":"n","r":19,"x":5,"l":0,"e":5.75,"s":1},{"k":"n","r":19,"x":6,"l":0,"e":6.5,"s":1},{"k":"n","r":19,"x":6.75,"l":0,"s":1},{"k":"n","r":19,"x":7,"l":0,"e":7.75,"s":1},{"k":"n","r":19,"x":8,"l":2,"e":8.5},{"k":"n","r":19,"x":8.75,"l":2},{"k":"n","r":19,"x":9.25,"l":2},{"k":"n","r":19,"x":10,"l":2},{"k":"n","r":19,"x":9.75,"l":0},{"k":"n","r":19,"x":10.5,"l":1},{"k":"n","r":19,"x":11,"l":3,"e":15.25},{"k":"n","r":19,"x":15.75,"l":3},{"k":"n","r":19,"x":15.5,"l":4},

{"k":"n","r":20,"x":0,"l":0,"e":0.5},{"k":"n","r":20,"x":0.75,"l":0},{"k":"n","r":20,"x":1,"l":0,"e":1.75},{"k":"n","r":20,"x":2,"l":2,"e":2.5},{"k":"n","r":20,"x":2.75,"l":2},{"k":"n","r":20,"x":3,"l":2,"e":3.75},{"k":"n","r":20,"x":4,"l":1,"e":4.5},{"k":"n","r":20,"x":4.75,"l":1},{"k":"n","r":20,"x":5,"l":1,"e":5.75},{"k":"n","r":20,"x":6,"l":3,"e":6.5},{"k":"n","r":20,"x":6.75,"l":3},{"k":"n","r":20,"x":7,"l":3,"e":7.75},{"k":"n","r":20,"x":8,"l":0,"e":8.5},{"k":"n","r":20,"x":8.75,"l":0},{"k":"n","r":20,"x":9,"l":0,"e":9.75},{"k":"n","r":20,"x":10,"l":2,"e":10.5},{"k":"n","r":20,"x":10.75,"l":2},{"k":"n","r":20,"x":11,"l":2,"e":11.75},{"k":"n","r":20,"x":12,"l":1,"e":12.5},{"k":"n","r":20,"x":12.75,"l":1},{"k":"n","r":20,"x":13,"l":1,"e":13.5},{"k":"n","r":20,"x":13.75,"l":1},{"k":"n","r":20,"x":14,"l":3,"e":14.5},{"k":"n","r":20,"x":14.75,"l":3},{"k":"n","r":20,"x":15,"l":3},{"k":"n","r":20,"x":15.5,"l":3},

{"k":"n","r":21,"x":0,"l":4,"e":0.5},{"k":"n","r":21,"x":0.75,"l":4},{"k":"n","r":21,"x":1,"l":4,"e":1.75},{"k":"n","r":21,"x":2,"l":2,"e":2.5},{"k":"n","r":21,"x":2.75,"l":2},{"k":"n","r":21,"x":3,"l":2,"e":3.75},{"k":"n","r":21,"x":4,"l":1,"e":4.5},{"k":"n","r":21,"x":4.75,"l":1},{"k":"n","r":21,"x":5,"l":1,"e":5.75},{"k":"n","r":21,"x":6,"l":3,"e":6.5},{"k":"n","r":21,"x":6.75,"l":3},{"k":"n","r":21,"x":7,"l":3,"e":7.75},{"k":"n","r":21,"x":8,"l":4,"e":8.5,"s":1},{"k":"n","r":21,"x":8.75,"l":4,"s":1},{"k":"n","r":21,"x":9,"l":4,"e":9.75,"s":1},{"k":"n","r":21,"x":10,"l":2,"e":10.5,"s":1},{"k":"n","r":21,"x":10.75,"l":2,"s":1},{"k":"n","r":21,"x":11,"l":2,"e":11.5,"s":1},{"k":"n","r":21,"x":11.75,"l":0,"s":1},{"k":"n","r":21,"x":12,"l":1,"e":12.5},{"k":"n","r":21,"x":13,"l":1,"e":13.5},{"k":"n","r":21,"x":12.75,"l":0},{"k":"n","r":21,"x":15.5,"l":0},{"k":"n","r":21,"x":13.75,"l":2},{"k":"n","r":21,"x":14.75,"l":2},{"k":"n","r":21,"x":14,"l":3,"e":14.5},{"k":"n","r":21,"x":15,"l":3},

{"k":"n","r":22,"x":0,"l":1,"e":0.5},{"k":"n","r":22,"x":0.75,"l":1},{"k":"n","r":22,"x":1,"l":1,"e":1.75},{"k":"n","r":22,"x":2,"l":2,"e":2.5},{"k":"n","r":22,"x":2.75,"l":2},{"k":"n","r":22,"x":3,"l":2,"e":3.5},{"k":"n","r":22,"x":3.75,"l":0},{"k":"n","r":22,"x":4,"l":1,"e":4.5},{"k":"n","r":22,"x":4.75,"l":1},{"k":"n","r":22,"x":5,"l":1,"e":5.5},{"k":"n","r":22,"x":5.75,"l":2},{"k":"n","r":22,"x":6.75,"l":2},{"k":"n","r":22,"x":6,"l":3,"e":6.5},{"k":"n","r":22,"x":7,"l":3},{"k":"n","r":22,"x":7.5,"l":3},{"k":"n","r":22,"x":7.25,"l":4},{"k":"n","r":22,"x":8,"l":4,"e":8.5},{"k":"n","r":22,"x":8.75,"l":4},{"k":"n","r":22,"x":9,"l":4,"e":9.75},{"k":"n","r":22,"x":10,"l":2,"e":10.5},{"k":"n","r":22,"x":10.75,"l":2},{"k":"n","r":22,"x":11,"l":2,"e":11.5},{"k":"n","r":22,"x":11.75,"l":0},{"k":"n","r":22,"x":12,"l":1,"e":12.5},{"k":"n","r":22,"x":13,"l":1,"e":13.5},{"k":"n","r":22,"x":12.75,"l":0},{"k":"n","r":22,"x":13.75,"l":2},{"k":"n","r":22,"x":14.5,"l":2},{"k":"n","r":22,"x":14.75,"l":2},{"k":"n","r":22,"x":14,"l":3},{"k":"n","r":22,"x":14.25,"l":3},{"k":"n","r":22,"x":15,"l":3},{"k":"n","r":22,"x":15.25,"l":0},{"k":"n","r":22,"x":15.5,"l":0},{"k":"n","r":22,"x":15.75,"l":0},

{"k":"n","r":23,"x":0,"l":1},{"k":"n","r":23,"x":0.5,"l":0},{"k":"n","r":23,"x":0.75,"l":0},{"k":"n","r":23,"x":1,"l":1,"e":1.75},{"k":"n","r":23,"x":2,"l":2,"e":2.5},{"k":"n","r":23,"x":2.75,"l":2},{"k":"n","r":23,"x":3,"l":2,"e":3.5},{"k":"n","r":23,"x":3.75,"l":0},{"k":"n","r":23,"x":4,"l":1,"e":4.5},{"k":"n","r":23,"x":5,"l":1,"e":5.5},{"k":"n","r":23,"x":4.75,"l":0},{"k":"n","r":23,"x":6.75,"l":1},{"k":"n","r":23,"x":5.75,"l":2},{"k":"n","r":23,"x":7,"l":2},{"k":"n","r":23,"x":6,"l":3,"e":6.5},{"k":"n","r":23,"x":7.5,"l":3},{"k":"n","r":23,"x":8,"l":4,"e":8.5},{"k":"n","r":23,"x":8.75,"l":4},{"k":"n","r":23,"x":9,"l":4,"e":9.75},{"k":"n","r":23,"x":10,"l":2,"e":10.5},{"k":"n","r":23,"x":10.75,"l":2},{"k":"n","r":23,"x":11,"l":2,"e":11.75},{"k":"n","r":23,"x":12,"l":0,"e":12.5},{"k":"n","r":23,"x":12.75,"l":0},{"k":"n","r":23,"x":13,"l":0},{"k":"n","r":23,"x":13.5,"l":0},{"k":"n","r":23,"x":14,"l":1,"e":14.75},{"k":"n","r":23,"x":15,"l":1},{"k":"n","r":23,"x":15.5,"l":1},

{"k":"n","r":24,"x":0,"l":3,"e":1.25},{"k":"n","r":24,"x":1.5,"l":3},{"k":"n","r":24,"x":2,"l":2,"e":3},{"k":"n","r":24,"x":3.25,"l":3,"e":3.75},{"k":"n","r":24,"x":4,"l":4,"e":4.5},{"k":"n","r":24,"x":4.75,"l":4},{"k":"n","r":24,"x":5.25,"l":4},{"k":"n","r":24,"x":6,"l":4},{"k":"n","r":24,"x":5.75,"l":0},{"k":"n","r":24,"x":6.5,"l":3},{"k":"n","r":24,"x":6.75,"l":2},{"k":"n","r":24,"x":7,"l":1,"e":11.5}
]},
"data":{"name":"main"},
"layer":[
{"transform":[{"filter":"datum.k==='y'"}],"mark":{"type":"rule","stroke":"#ffffd0","strokeWidth":11,"strokeCap":"butt"},
 "encoding":{"x":{"field":"x","type":"quantitative","axis":null,"scale":{"domain":[0,16],"nice":false,"zero":false}},"x2":{"field":"x2"},
  "y":{"field":"r","type":"ordinal","axis":null,"scale":{"paddingInner":0,"paddingOuter":0}},
  "yOffset":{"datum":-0.36,"type":"quantitative","scale":{"domain":[-2.2,7.046],"range":[0,141],"nice":false,"zero":false}}}},
{"transform":[{"filter":"datum.k==='y'"}],"mark":{"type":"rule","stroke":"#ffffd0","strokeWidth":10.5,"strokeCap":"butt"},
 "encoding":{"x":{"field":"x","type":"quantitative","axis":null},"x2":{"field":"x2"},"y":{"field":"r","type":"ordinal","axis":null},"yOffset":{"datum":4.34,"type":"quantitative"}}},
{"transform":[{"filter":"datum.k==='row'"},{"lookup":"len","from":{"data":{"name":"grid"},"key":"len","fields":["gh"]}},{"flatten":["gh"]}],
 "mark":{"type":"tick","orient":"vertical","size":61,"thickness":1,"color":"#e4e4e4","opacity":1},
 "encoding":{"x":{"field":"gh","type":"quantitative","axis":null},"y":{"field":"r","type":"ordinal","axis":null},"yOffset":{"datum":2,"type":"quantitative"}}},
{"transform":[{"filter":"datum.k==='row'"},{"lookup":"len","from":{"data":{"name":"grid"},"key":"len","fields":["gb"]}},{"flatten":["gb"]}],
 "mark":{"type":"tick","orient":"vertical","size":61,"thickness":1,"color":"#a8a8a8","opacity":1},
 "encoding":{"x":{"field":"gb","type":"quantitative","axis":null},"y":{"field":"r","type":"ordinal","axis":null},"yOffset":{"datum":2,"type":"quantitative"}}},
{"transform":[{"filter":"datum.k==='m'"}],"mark":{"type":"rule","stroke":"#a8a8a8","strokeWidth":1.5},
 "encoding":{"x":{"field":"x","type":"quantitative","axis":null},"x2":{"field":"xe"},"y":{"field":"r","type":"ordinal","axis":null},"yOffset":{"datum":1,"type":"quantitative"}}},
{"transform":[{"filter":"datum.k==='m'"}],"mark":{"type":"rule","stroke":"#a8a8a8","strokeWidth":1.5},
 "encoding":{"x":{"field":"x","type":"quantitative","axis":null},"x2":{"field":"xe"},"y":{"field":"r","type":"ordinal","axis":null},"yOffset":{"datum":2,"type":"quantitative"}}},
{"transform":[{"filter":"datum.k==='m'"}],"mark":{"type":"rule","stroke":"#a8a8a8","strokeWidth":1.5},
 "encoding":{"x":{"field":"x","type":"quantitative","axis":null},"x2":{"field":"xe"},"y":{"field":"r","type":"ordinal","axis":null},"yOffset":{"datum":3,"type":"quantitative"}}},
{"transform":[{"filter":"datum.k==='p'"}],"mark":{"type":"rule","stroke":"#ffa0a0","strokeWidth":61,"strokeCap":"butt"},
 "encoding":{"x":{"field":"x","type":"quantitative","axis":null},"x2":{"field":"x2"},"y":{"field":"r","type":"ordinal","axis":null},"yOffset":{"datum":2,"type":"quantitative"}}},
{"transform":[{"filter":"datum.k==='m'"}],"mark":{"type":"rule","stroke":"black","strokeWidth":1.5},
 "encoding":{"x":{"field":"x","type":"quantitative","axis":null},"x2":{"field":"xe"},"y":{"field":"r","type":"ordinal","axis":null},"yOffset":{"datum":0,"type":"quantitative"}}},
{"transform":[{"filter":"datum.k==='m'"}],"mark":{"type":"rule","stroke":"black","strokeWidth":1.5},
 "encoding":{"x":{"field":"x","type":"quantitative","axis":null},"x2":{"field":"xe"},"y":{"field":"r","type":"ordinal","axis":null},"yOffset":{"datum":4,"type":"quantitative"}}},
{"transform":[{"filter":"datum.k==='m'"}],"mark":{"type":"tick","orient":"vertical","size":61,"thickness":1.2,"color":"black","opacity":1},
 "encoding":{"x":{"field":"x","type":"quantitative","axis":null},"y":{"field":"r","type":"ordinal","axis":null},"yOffset":{"datum":2,"type":"quantitative"}}},
{"transform":[{"filter":"datum.k==='m'"}],"mark":{"type":"tick","orient":"vertical","size":61,"thickness":1.2,"color":"black","opacity":1},
 "encoding":{"x":{"field":"xe","type":"quantitative","axis":null},"y":{"field":"r","type":"ordinal","axis":null},"yOffset":{"datum":2,"type":"quantitative"}}},
{"transform":[{"filter":"datum.k==='m' && datum.tn"}],"mark":{"type":"text","align":"left","baseline":"alphabetic","fontSize":32,"font":"DejaVu Sans","color":"#a0a0a0","dx":3},
 "encoding":{"x":{"field":"x","type":"quantitative","axis":null},"y":{"field":"r","type":"ordinal","axis":null},"yOffset":{"datum":1.65,"type":"quantitative"},"text":{"field":"tn","type":"nominal"}}},
{"transform":[{"filter":"datum.k==='m' && datum.tn"}],"mark":{"type":"text","align":"left","baseline":"alphabetic","fontSize":32,"font":"DejaVu Sans","color":"#a0a0a0","dx":3},
 "encoding":{"x":{"field":"x","type":"quantitative","axis":null},"y":{"field":"r","type":"ordinal","axis":null},"yOffset":{"datum":3.72,"type":"quantitative"},"text":{"field":"td","type":"nominal"}}},
{"transform":[{"filter":"datum.e != null"}],"mark":{"type":"rule","strokeWidth":7,"strokeCap":"butt"},
 "encoding":{"x":{"field":"x","type":"quantitative","axis":null},"x2":{"field":"e"},"y":{"field":"r","type":"ordinal","axis":null},"yOffset":{"field":"l","type":"quantitative"},
  "color":{"field":"l","type":"ordinal","scale":{"domain":[0,1,2,3,4],"range":["#00ff00","#ff0000","#ffff00","#0000ff","#ffa500"]},"legend":null}}},
{"transform":[{"filter":"datum.k==='n' && !datum.s"}],"mark":{"type":"point","shape":"circle","filled":true,"size":110,"opacity":1,"stroke":"black","strokeWidth":1},
 "encoding":{"x":{"field":"x","type":"quantitative","axis":null},"y":{"field":"r","type":"ordinal","axis":null},"yOffset":{"field":"l","type":"quantitative"},
  "color":{"field":"l","type":"ordinal","legend":null}}},
{"transform":[{"filter":"datum.k==='n' && datum.s"}],"mark":{"type":"point","shape":"M0,-1L0.2245,-0.309L0.951,-0.309L0.363,0.118L0.588,0.809L0,0.382L-0.588,0.809L-0.363,0.118L-0.951,-0.309L-0.2245,-0.309Z","filled":true,"size":170,"opacity":1,"stroke":"#1a1a1a","strokeWidth":1},
 "encoding":{"x":{"field":"x","type":"quantitative","axis":null},"y":{"field":"r","type":"ordinal","axis":null},"yOffset":{"field":"l","type":"quantitative"},
  "color":{"field":"l","type":"ordinal","legend":null}}},
{"transform":[{"filter":"datum.k==='g'"}],"mark":{"type":"rule","stroke":"#00ff00","strokeWidth":61,"strokeCap":"butt","opacity":0.33},
 "encoding":{"x":{"field":"x","type":"quantitative","axis":null},"x2":{"field":"x2"},"y":{"field":"r","type":"ordinal","axis":null},"yOffset":{"datum":2,"type":"quantitative"}}},
{"transform":[{"filter":"datum.k==='b'"}],"mark":{"type":"rule","stroke":"#0000ff","strokeWidth":61,"strokeCap":"butt","opacity":0.33},
 "encoding":{"x":{"field":"x","type":"quantitative","axis":null},"x2":{"field":"x2"},"y":{"field":"r","type":"ordinal","axis":null},"yOffset":{"datum":2,"type":"quantitative"}}},
{"transform":[{"filter":"datum.k==='t'"}],"mark":{"type":"text","align":"left","baseline":"middle","fontSize":10,"font":"DejaVu Sans","color":"#a0a0a0"},
 "encoding":{"x":{"field":"x","type":"quantitative","axis":null},"y":{"field":"r","type":"ordinal","axis":null},"yOffset":{"datum":-1.55,"type":"quantitative"},"text":{"field":"tp","type":"nominal"}}},
{"transform":[{"filter":"datum.k==='m'"}],"mark":{"type":"text","align":"left","baseline":"middle","fontSize":10,"font":"DejaVu Sans","color":"#8b0000","dx":1},
 "encoding":{"x":{"field":"x","type":"quantitative","axis":null},"y":{"field":"r","type":"ordinal","axis":null},"yOffset":{"datum":-0.72,"type":"quantitative"},"text":{"field":"n","type":"quantitative","format":"d"}}},
{"transform":[{"filter":"datum.k==='m'"}],"mark":{"type":"text","align":"right","baseline":"middle","fontSize":10,"font":"DejaVu Sans","color":"#a0a0a0","dx":-1},
 "encoding":{"x":{"field":"xe","type":"quantitative","axis":null},"y":{"field":"r","type":"ordinal","axis":null},"yOffset":{"datum":4.77,"type":"quantitative"},"text":{"field":"sc","type":"quantitative","format":"d"}}},
{"transform":[{"filter":"datum.k==='m'"}],"mark":{"type":"text","align":"right","baseline":"middle","fontSize":10,"font":"DejaVu Sans","color":"#006400","dx":-1},
 "encoding":{"x":{"field":"xe","type":"quantitative","axis":null},"y":{"field":"r","type":"ordinal","axis":null},"yOffset":{"datum":5.64,"type":"quantitative"},"text":{"field":"tot","type":"quantitative","format":"d"}}},
{"transform":[{"filter":"datum.k==='m'"}],"mark":{"type":"text","align":"right","baseline":"middle","fontSize":10,"font":"DejaVu Sans","color":"#008b8b","dx":-1},
 "encoding":{"x":{"field":"xe","type":"quantitative","axis":null},"y":{"field":"r","type":"ordinal","axis":null},"yOffset":{"datum":6.5,"type":"quantitative"},"text":{"field":"pc","type":"quantitative","format":".2%"}}}
]
}
